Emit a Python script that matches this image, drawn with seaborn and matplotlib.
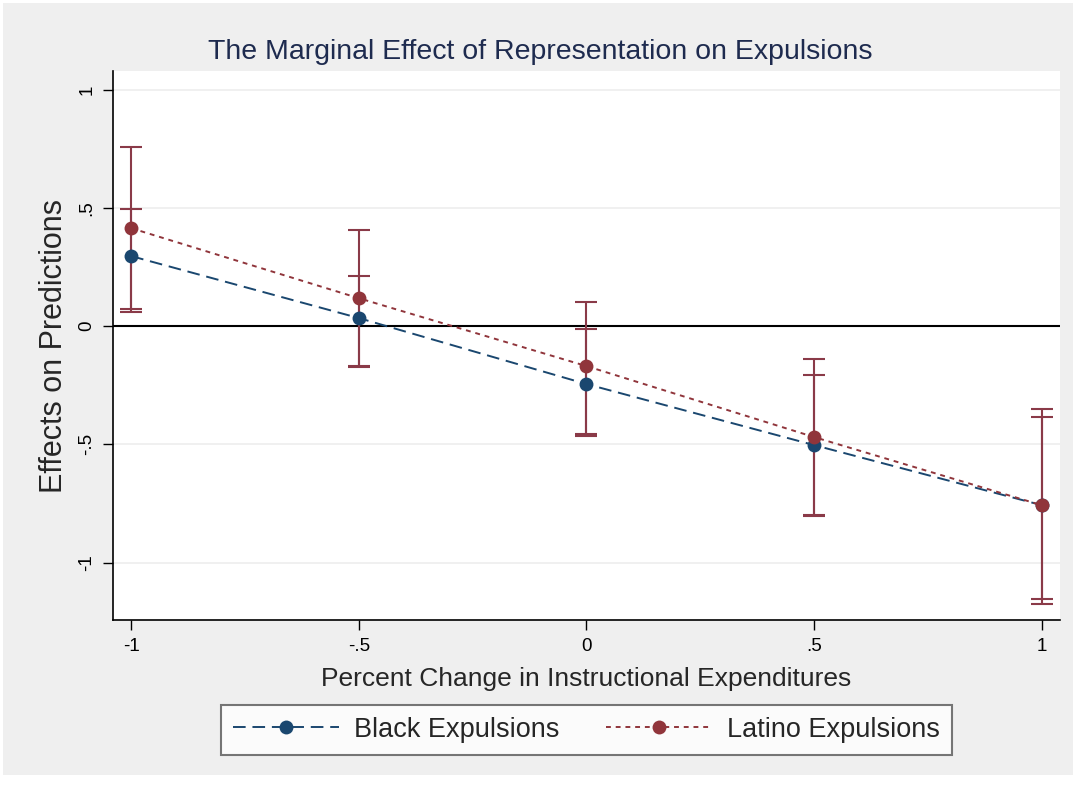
import matplotlib
matplotlib.use("Agg")
import matplotlib.pyplot as plt
from matplotlib.patches import Rectangle
import seaborn as sns
import pandas as pd

# values
x_vals = [-1, -0.5, 0, 0.5, 1]
black_est = [0.296, 0.034, -0.245, -0.503, -0.757]
black_lo = [0.059, -0.168, -0.458, -0.800, -1.175]
black_hi = [0.495, 0.211, -0.013, -0.207, -0.385]
latino_est = [0.414, 0.118, -0.169, -0.469, -0.757]
latino_lo = [0.072, -0.172, -0.463, -0.803, -1.154]
latino_hi = [0.757, 0.406, 0.101, -0.140, -0.351]
series_names = ["Black Expulsions", "Latino Expulsions"]
tick_labels = ["-1", "-.5", "0", ".5", "1"]
y_ticks = [-1, -0.5, 0, 0.5, 1]

navy = "#1a476f"
maroon = "#90353b"
ci_col = "#8a3a48"

sns.set_style("white")
plt.rcParams["font.family"] = ["Liberation Sans", "DejaVu Sans"]

df = pd.DataFrame({
    "x": x_vals * 2,
    "y": black_est + latino_est,
    "series": [series_names[0]] * 5 + [series_names[1]] * 5,
})

fig = plt.figure(figsize=(10.81, 7.9), dpi=100, facecolor="white")
# light gray graph region with a thin white margin, like the Stata export
fig.patches.append(Rectangle((3 / 1081, 15 / 790), 1070 / 1081, 772 / 790,
                             transform=fig.transFigure, facecolor="#efefef",
                             edgecolor="none", zorder=-10))
ax = fig.add_axes([0.1045, 0.215, 0.876, 0.695])
ax.set_facecolor("white")

for yt in [-1, -0.5, 0.5, 1]:
    ax.axhline(yt, color="#eeeeee", lw=1.2, zorder=0)
ax.axhline(0, color="black", lw=1.5, zorder=1)

# confidence intervals
for lo, hi in [(black_lo, black_hi), (latino_lo, latino_hi)]:
    mid = [(a + b) / 2 for a, b in zip(lo, hi)]
    err = [[m - a for m, a in zip(mid, lo)], [b - m for m, b in zip(mid, hi)]]
    ax.errorbar(x_vals, mid, yerr=err, fmt="none", ecolor=ci_col,
                elinewidth=1.5, capsize=8, capthick=1.5, zorder=2)

sns.lineplot(data=df, x="x", y="y", hue="series", style="series",
             palette=[navy, maroon], dashes=[(6.5, 3.5), (2.5, 2.5)],
             markers=["o", "o"], markersize=10, markeredgewidth=0,
             lw=1.4, ax=ax, zorder=3)

ax.set_xlim(-1.04, 1.04)
ax.set_ylim(-1.243, 1.078)
ax.set_xticks(x_vals)
ax.set_xticklabels(tick_labels, fontsize=13.5)
ax.set_yticks(y_ticks)
ax.set_yticklabels(tick_labels, fontsize=13.5, rotation=90, va="center")
ax.tick_params(axis="both", direction="out", length=7.5, width=1, colors="black",
               left=True, bottom=True, pad=5)
for s in ["top", "right"]:
    ax.spines[s].set_visible(False)
for s in ["left", "bottom"]:
    ax.spines[s].set_color("black")
    ax.spines[s].set_linewidth(1.2)

ax.set_xlabel("Percent Change in Instructional Expenditures", fontsize=19, labelpad=9)
ax.set_ylabel("Effects on Predictions", fontsize=22, labelpad=7)
fig.suptitle("The Marginal Effect of Representation on Expulsions",
             x=0.5, y=0.934, va="center", fontsize=20.5, color="#1e2b4f")

handles, labels = ax.get_legend_handles_labels()
leg = ax.legend(handles, labels, loc="center", bbox_to_anchor=(0.5, -0.2),
                ncol=2, fontsize=19.5, frameon=True, fancybox=False,
                edgecolor="#555555", handlelength=3.9, handletextpad=0.55,
                columnspacing=1.75, borderpad=0.45, borderaxespad=0)
leg.get_frame().set_linewidth(1.5)

fig.savefig("out.png", dpi=100, facecolor=fig.get_facecolor())
